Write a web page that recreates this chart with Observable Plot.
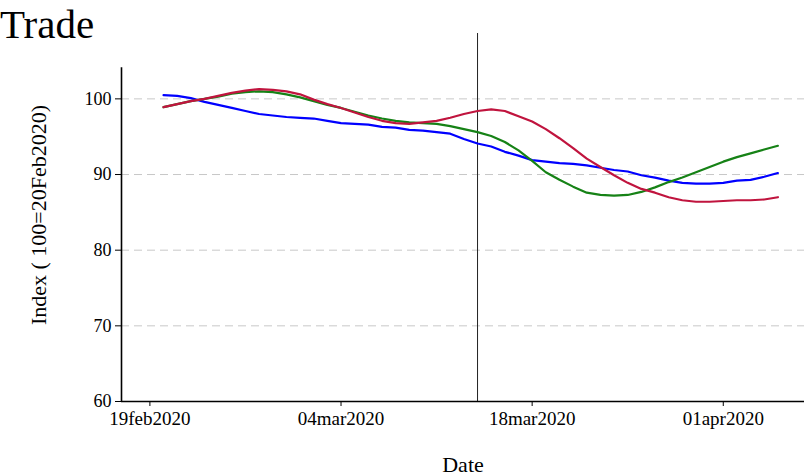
<!DOCTYPE html>
<html>
<head>
<meta charset="utf-8">
<script src="https://cdn.jsdelivr.net/npm/d3@7"></script>
<script src="https://cdn.jsdelivr.net/npm/@observablehq/plot@0.6"></script>
<style>
  html, body { margin: 0; padding: 0; background: #fff; }
  #wrap { position: relative; width: 807px; height: 476px; overflow: hidden; }
  #title { position: absolute; left: 0px; top: 0px; font-family: "Liberation Serif", "Times New Roman", serif; font-size: 41px; line-height: normal; color: #000; white-space: nowrap; }
</style>
</head>
<body>
<div id="wrap">
  <div id="chart"></div>
  <div id="title">Trade</div>
</div>
<script>
// ---- data ----
const dates = [
  "2020-02-20","2020-02-21","2020-02-22","2020-02-23","2020-02-24","2020-02-25","2020-02-26","2020-02-27","2020-02-28","2020-02-29",
  "2020-03-01","2020-03-02","2020-03-03","2020-03-04","2020-03-05","2020-03-06","2020-03-07","2020-03-08","2020-03-09","2020-03-10",
  "2020-03-11","2020-03-12","2020-03-13","2020-03-14","2020-03-15","2020-03-16","2020-03-17","2020-03-18","2020-03-19","2020-03-20",
  "2020-03-21","2020-03-22","2020-03-23","2020-03-24","2020-03-25","2020-03-26","2020-03-27","2020-03-28","2020-03-29","2020-03-30",
  "2020-03-31","2020-04-01","2020-04-02","2020-04-03","2020-04-04","2020-04-05"
];
const blueSeries = [
  100.5,100.4,100.1,99.6,99.2,98.8,98.4,98.0,97.8,97.6,
  97.5,97.4,97.1,96.8,96.7,96.6,96.3,96.2,95.9,95.8,
  95.6,95.4,94.7,94.1,93.7,93.0,92.5,91.9,91.7,91.5,
  91.4,91.2,90.9,90.6,90.4,89.9,89.6,89.2,88.9,88.8,
  88.8,88.9,89.2,89.3,89.7,90.2
];
const greenSeries = [
  98.9,99.3,99.7,100.0,100.3,100.7,100.9,101.0,100.9,100.6,
  100.2,99.7,99.2,98.8,98.3,97.8,97.4,97.1,96.9,96.8,
  96.7,96.4,96.0,95.6,95.1,94.3,93.2,91.8,90.3,89.3,
  88.4,87.6,87.3,87.2,87.3,87.7,88.3,89.0,89.6,90.3,
  91.0,91.7,92.3,92.8,93.3,93.8
];
const redSeries = [
  98.9,99.3,99.7,100.0,100.4,100.8,101.1,101.3,101.2,101.0,
  100.6,99.9,99.3,98.8,98.2,97.6,97.1,96.8,96.7,96.9,
  97.1,97.5,98.0,98.4,98.6,98.4,97.7,97.0,96.0,94.8,
  93.5,92.1,91.0,89.9,88.9,88.1,87.6,87.0,86.6,86.4,
  86.4,86.5,86.6,86.6,86.7,87.0
];
const seriesNames = ["Series A", "Series B", "Series C"];
const seriesColors = ["#0000ff", "#168216", "#c0143e"];
const xTicks = ["2020-02-19","2020-03-04","2020-03-18","2020-04-01"];
const yTicks = [60, 70, 80, 90, 100];
const gridValues = [70, 80, 90, 100];
const markerDate = "2020-03-14";
const xLabel = "Date";
const yLabel = "Index ( 100=20Feb2020)";

// ---- build table ----
const allSeries = [blueSeries, greenSeries, redSeries];
const table = allSeries.flatMap((vals, si) =>
  vals.map((v, i) => ({date: new Date(dates[i]), value: v, series: seriesNames[si]}))
);

const DAY = 86400000;
const t0 = new Date("2020-02-19").getTime();
const xMin = new Date(t0 - 2.08 * DAY);
const xMax = new Date(t0 + 47.95 * DAY);
const fmt = d3.utcFormat("%d%b%Y");

const chart = Plot.plot({
  width: 807,
  height: 476,
  marginLeft: 121,
  marginRight: 3,
  marginTop: 33,
  marginBottom: 75,
  style: {fontFamily: "'Liberation Serif', 'Times New Roman', serif", fontSize: "19px", color: "#000", background: "#fff", overflow: "visible"},
  x: {type: "utc", domain: [xMin, xMax]},
  y: {domain: [60, 108.64]},
  color: {type: "ordinal", domain: seriesNames, range: seriesColors},
  marks: [
    Plot.ruleY(gridValues, {stroke: "#c8c8c8", strokeWidth: 1, strokeDasharray: "8,5"}),
    Plot.ruleX([new Date(markerDate)], {stroke: "#222", strokeWidth: 1}),
    Plot.line(table, {x: "date", y: "value", z: "series", stroke: "series", strokeWidth: 2.2}),
    Plot.ruleX([xMin], {y1: 60, y2: 104.1, stroke: "#000", strokeWidth: 1.6}),
    Plot.ruleY([60], {stroke: "#000", strokeWidth: 1.6}),
    Plot.axisY({ticks: yTicks, tickSize: 6, tickPadding: 4, label: null, stroke: "#000", fill: "#000", fontSize: 18}),
    Plot.axisX({ticks: xTicks.map(d => new Date(d)), tickFormat: d => fmt(d).toLowerCase(), tickSize: 5, tickPadding: 5, label: null, stroke: "#000", fill: "#000"})
  ]
});

const svg = d3.select(chart);
svg.append("text")
  .attr("x", 463).attr("y", 472)
  .attr("text-anchor", "middle")
  .attr("font-size", 22)
  .attr("fill", "#000")
  .text(xLabel);
svg.append("text")
  .attr("transform", "translate(46,215) rotate(-90)")
  .attr("text-anchor", "middle")
  .attr("font-size", 22)
  .attr("fill", "#000")
  .text(yLabel);

document.getElementById("chart").appendChild(chart);
</script>
</body>
</html>
